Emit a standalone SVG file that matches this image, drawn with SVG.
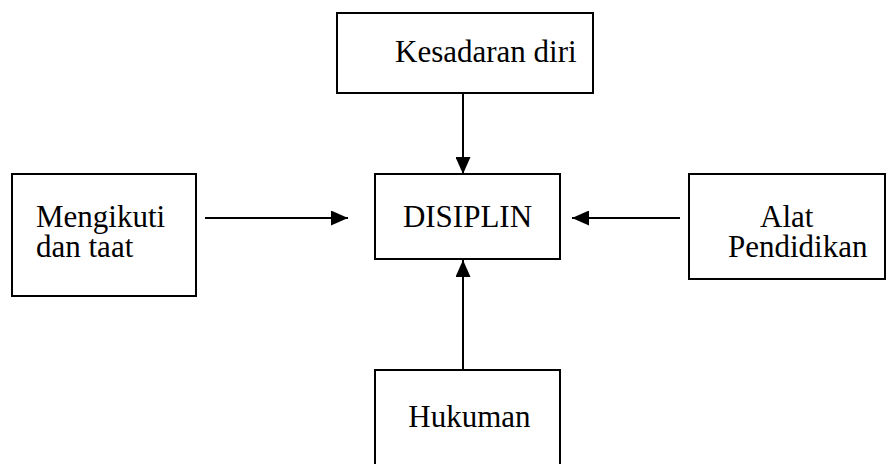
<svg xmlns="http://www.w3.org/2000/svg" width="892" height="464" viewBox="0 0 892 464">
<style>
.box{fill:#fff;stroke:#000;stroke-width:2}
.t{font-family:"Liberation Serif","Times New Roman",serif;font-size:31px;fill:#000}
.c{stroke:#000;stroke-width:2;fill:none}
</style>
<defs>
<marker id="ah" viewBox="0 0 17 15" refX="17" refY="7.5" markerWidth="17" markerHeight="15" markerUnits="userSpaceOnUse" orient="auto">
<path d="M0,0 L17,7.5 L0,15 Z" fill="#000"/>
</marker>
</defs>
<rect width="892" height="464" fill="#fff"/>
<g id="kesadaran">
<rect class="box" x="337" y="13" width="256" height="80"/>
<text class="t" x="395" y="62">Kesadaran diri</text>
</g>
<g id="disiplin">
<rect class="box" x="375" y="174" width="185" height="85"/>
<text class="t" x="467.5" y="227" text-anchor="middle">DISIPLIN</text>
</g>
<g id="mengikuti">
<rect class="box" x="12" y="174" width="184" height="122"/>
<text class="t" x="36" y="227">Mengikuti</text>
<text class="t" x="36" y="257">dan taat</text>
</g>
<g id="alat">
<rect class="box" x="689" y="174" width="196" height="105"/>
<text class="t" x="760" y="227">Alat</text>
<text class="t" x="728" y="257">Pendidikan</text>
</g>
<g id="hukuman">
<rect class="box" x="375" y="370" width="185" height="100"/>
<text class="t" x="469.5" y="427" text-anchor="middle">Hukuman</text>
</g>
<g id="connectors">
<line class="c" x1="463" y1="93" x2="463" y2="174" marker-end="url(#ah)"/>
<line class="c" x1="205" y1="218" x2="348" y2="218" marker-end="url(#ah)"/>
<line class="c" x1="680" y1="218" x2="572" y2="218" marker-end="url(#ah)"/>
<line class="c" x1="463" y1="370" x2="463" y2="260" marker-end="url(#ah)"/>
</g>
</svg>
